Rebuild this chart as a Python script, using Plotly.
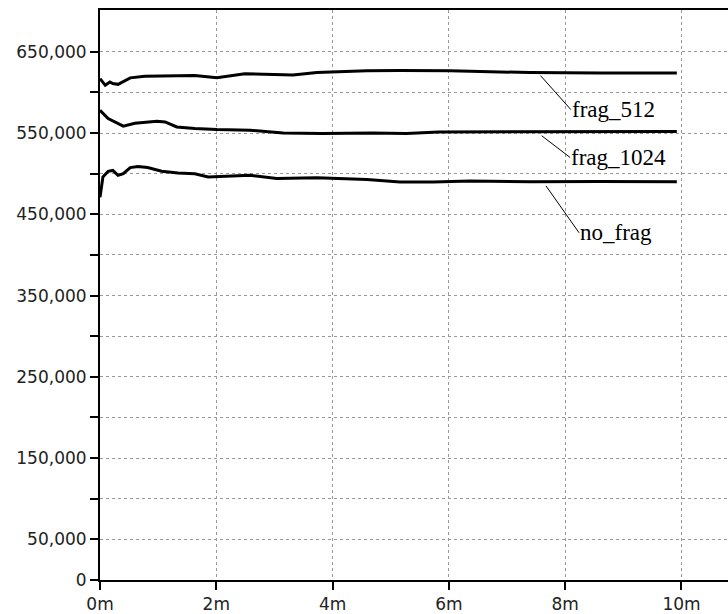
import plotly.graph_objects as go
import numpy as np

# time in minutes
t_512 = [0, 0.09, 0.17, 0.22, 0.31, 0.40, 0.52, 0.77, 1.34, 1.63, 2.01, 2.32, 2.49,
         3.32, 3.73, 4.59, 5.16, 6.02, 6.36, 7.4, 8.6, 9.92]
v_512 = [617000, 609000, 613000, 611000, 610000, 613000, 618000, 620000, 621000, 621000,
         618000, 621000, 623000, 621600, 624600, 626600, 627000, 626600, 626000, 624500,
         624000, 624000]

t_1024 = [0, 0.14, 0.40, 0.60, 0.98, 1.12, 1.32, 1.63, 2.01, 2.53, 2.58, 3.15, 3.82,
          4.68, 5.27, 5.82, 6.36, 7.4, 8.6, 9.92]
v_1024 = [578000, 568000, 558500, 562000, 564600, 563800, 557600, 555600, 554400, 554000,
          553500, 550000, 549400, 550000, 549400, 551400, 551400, 552000, 552000, 552000]

t_nf = [0, 0.05, 0.14, 0.22, 0.31, 0.40, 0.52, 0.65, 0.82, 1.06, 1.34, 1.63, 1.86,
        2.20, 2.58, 3.04, 3.73, 4.59, 5.16, 5.73, 6.36, 7.4, 8.6, 9.92]
v_nf = [471000, 496000, 503000, 504000, 498000, 500000, 507600, 509000, 507600, 503000,
        501000, 500000, 496000, 497000, 498000, 494000, 495000, 492800, 489800, 489800,
        491000, 490000, 490500, 490000]

series = [("frag_512", t_512, v_512), ("frag_1024", t_1024, v_1024), ("no_frag", t_nf, v_nf)]

x_ticks = [0, 2, 4, 6, 8, 10]
x_text = ["0m", "2m", "4m", "6m", "8m", "10m"]
y_ticks = list(range(0, 700000, 50000))
y_text = [("{:,}".format(v) if (v == 0 or v % 100000 == 50000) else "") for v in y_ticks]

# label placements: (name, x at arrow head, ax, ay, standoff)
labels = [("frag_512", 7.53, 33, 37, 4), ("frag_1024", 7.50, 34, 26, 7), ("no_frag", 7.62, 36, 51, 5)]

fig = go.Figure()
for name, t, v in series:
    fig.add_trace(go.Scatter(x=t, y=v, mode="lines", name=name,
                             line=dict(color="black", width=3)))

for name, xh, ax, ay, so in labels:
    t, v = next((s[1], s[2]) for s in series if s[0] == name)
    yh = float(np.interp(xh, t, v))
    fig.add_annotation(x=xh, y=yh, text=name, showarrow=True, arrowhead=0, arrowwidth=1,
                       arrowcolor="black", ax=ax, ay=ay, xanchor="left", yanchor="middle",
                       standoff=so, borderpad=0,
                       font=dict(family="Liberation Serif", size=23, color="black"))

fig.update_layout(
    width=728, height=614,
    margin=dict(l=100, r=0, t=10, b=34),
    paper_bgcolor="white", plot_bgcolor="white",
    showlegend=False,
    font=dict(family="DejaVu Sans", size=17, color="#222222"),
)
fig.update_xaxes(range=[0, 10.8], tickvals=x_ticks, ticktext=x_text,
                 showline=True, linecolor="black", linewidth=2, mirror=True,
                 ticks="outside", ticklen=8, tickwidth=2, tickcolor="black",
                 showgrid=True, gridcolor="#999999", gridwidth=1, griddash="3px,3px",
                 zeroline=False)
fig.update_yaxes(range=[0, 701500], tickvals=y_ticks, ticktext=y_text,
                 showline=True, linecolor="black", linewidth=2,
                 ticks="outside", ticklen=8, tickwidth=2, tickcolor="black",
                 showgrid=True, gridcolor="#999999", gridwidth=1, griddash="3px,3px",
                 zeroline=False)

fig.write_html("out.html")
